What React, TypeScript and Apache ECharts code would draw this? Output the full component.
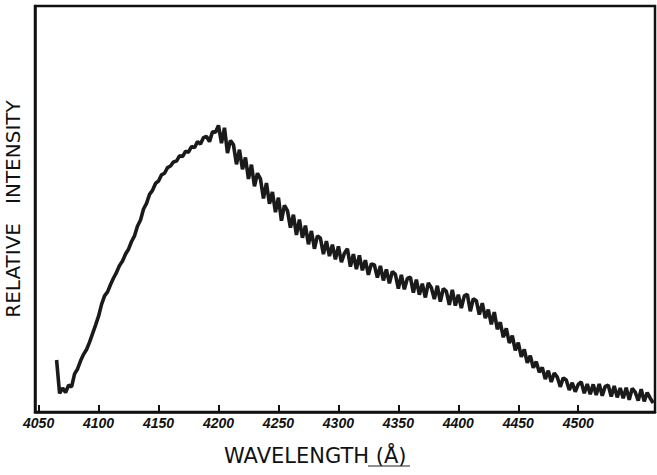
import React, { useEffect, useRef } from "react";
import * as echarts from "echarts";

const START_WAVELENGTH = 4065;
const STEP = 2.5;
const intensity: number[] = [
  12.8, 4.6, 5.9, 4.8, 6.6, 6.2, 9.4, 10.6, 12.6, 14.2,
  15.4, 17.2, 19.3, 21.4, 23.6, 26.5, 28.6, 29.6, 31.4, 33.0,
  34.4, 36.1, 37.2, 38.9, 40.1, 42.0, 43.4, 45.8, 47.3, 50.0,
  51.4, 53.6, 54.6, 56.3, 56.9, 58.4, 58.8, 60.2, 60.6, 61.6,
  61.8, 63.1, 62.9, 64.2, 64.0, 65.4, 65.1, 66.6, 66.0, 67.6,
  67.9, 66.6, 69.0, 68.9, 70.6, 66.2, 70.0, 63.8, 66.9, 65.8,
  61.0, 64.6, 59.8, 62.7, 57.4, 60.9, 55.6, 58.8, 57.4, 52.6,
  56.4, 51.3, 54.2, 49.2, 52.8, 47.1, 50.9, 49.6, 45.4, 48.6,
  43.6, 47.4, 42.9, 45.9, 41.3, 44.6, 40.2, 43.4, 42.8, 38.9,
  42.1, 38.4, 41.2, 37.6, 40.8, 36.9, 39.1, 40.2, 35.8, 38.9,
  35.2, 38.6, 34.9, 37.4, 33.8, 36.5, 36.2, 33.1, 36.0, 32.4,
  35.1, 31.7, 34.6, 33.9, 30.4, 33.8, 30.2, 32.9, 33.2, 29.4,
  32.6, 28.9, 31.6, 28.2, 31.8, 30.6, 27.8, 31.1, 27.2, 30.4,
  29.7, 26.4, 30.1, 26.2, 28.9, 25.6, 28.6, 29.0, 24.8, 27.9,
  27.4, 24.0, 26.8, 23.1, 25.2, 21.6, 24.6, 20.4, 22.1, 18.4,
  20.6, 17.0, 18.8, 15.2, 17.1, 13.6, 15.4, 12.1, 13.9, 10.9,
  12.4, 9.8, 11.0, 8.1, 10.2, 7.4, 9.6, 8.6, 6.2, 8.4,
  7.9, 5.4, 7.2, 5.0, 6.8, 7.4, 4.6, 6.9, 4.4, 6.8,
  4.2, 6.9, 4.0, 6.3, 6.6, 3.8, 6.4, 3.6, 5.9, 3.4,
  6.0, 3.0, 5.8, 4.9, 2.8, 5.6, 2.6, 4.8, 3.4, 2.2,
];
const tickWavelengths: number[] = [4050, 4100, 4150, 4200, 4250, 4300, 4350, 4400, 4450, 4500];
const X_TITLE = "WAVELENGTH (Å)";
const Y_TITLE = "RELATIVE   INTENSITY";

export default function App() {
  const ref = useRef<HTMLDivElement>(null);
  useEffect(() => {
    document.body.style.margin = "0";
    const chart = echarts.init(ref.current!, null, { renderer: "svg" });
    const data = intensity.map((v, i) => [START_WAVELENGTH + i * STEP, v]);
    chart.setOption({
      animation: false,
      backgroundColor: "#ffffff",
      grid: {
        left: 35,
        right: 2,
        top: 6,
        bottom: 63,
        outerBoundsMode: "none",
        containLabel: false,
        show: true,
        borderColor: "#111",
        borderWidth: 2.5,
      },
      graphic: [
        {
          type: "text",
          left: 224,
          top: 445,
          style: {
            text: X_TITLE,
            fontFamily: "DejaVu Sans",
            fontSize: 21,
            fill: "#111",
          },
        },
        {
          type: "line",
          shape: { x1: 368, y1: 466, x2: 410, y2: 466 },
          style: { stroke: "#222", lineWidth: 1.2 },
        },
      ],
      xAxis: {
        type: "value",
        min: 4047,
        max: 4564,
        axisLine: { show: true, lineStyle: { color: "#111", width: 2.5 } },
        axisTick: {
          show: true,
          inside: true,
          length: 7,
          customValues: tickWavelengths,
          lineStyle: { color: "#111", width: 2 },
        },
        axisLabel: {
          show: true,
          customValues: tickWavelengths,
          formatter: (v: number) => String(v),
          margin: 4,
          fontFamily: "Liberation Sans",
          fontStyle: "italic",
          fontWeight: "bold",
          fontSize: 14,
          color: "#111",
        },
        splitLine: { show: false },
      },
      yAxis: {
        type: "value",
        min: 0,
        max: 100,
        name: Y_TITLE,
        nameLocation: "middle",
        nameRotate: 90,
        nameGap: 12,
        nameTextStyle: {
          fontFamily: "DejaVu Sans",
          fontSize: 20,
          color: "#111",
        },
        axisLine: { show: true, lineStyle: { color: "#111", width: 2.5 } },
        axisTick: { show: false },
        axisLabel: { show: false },
        splitLine: { show: false },
      },
      series: [
        {
          type: "line",
          data,
          showSymbol: false,
          lineStyle: { color: "#1a1a1a", width: 3.6 },
          silent: true,
        },
      ],
    });
    return () => chart.dispose();
  }, []);
  return (
    <div
      ref={ref}
      style={{ position: "fixed", left: 0, top: 0, width: 657, height: 475 }}
    />
  );
}
